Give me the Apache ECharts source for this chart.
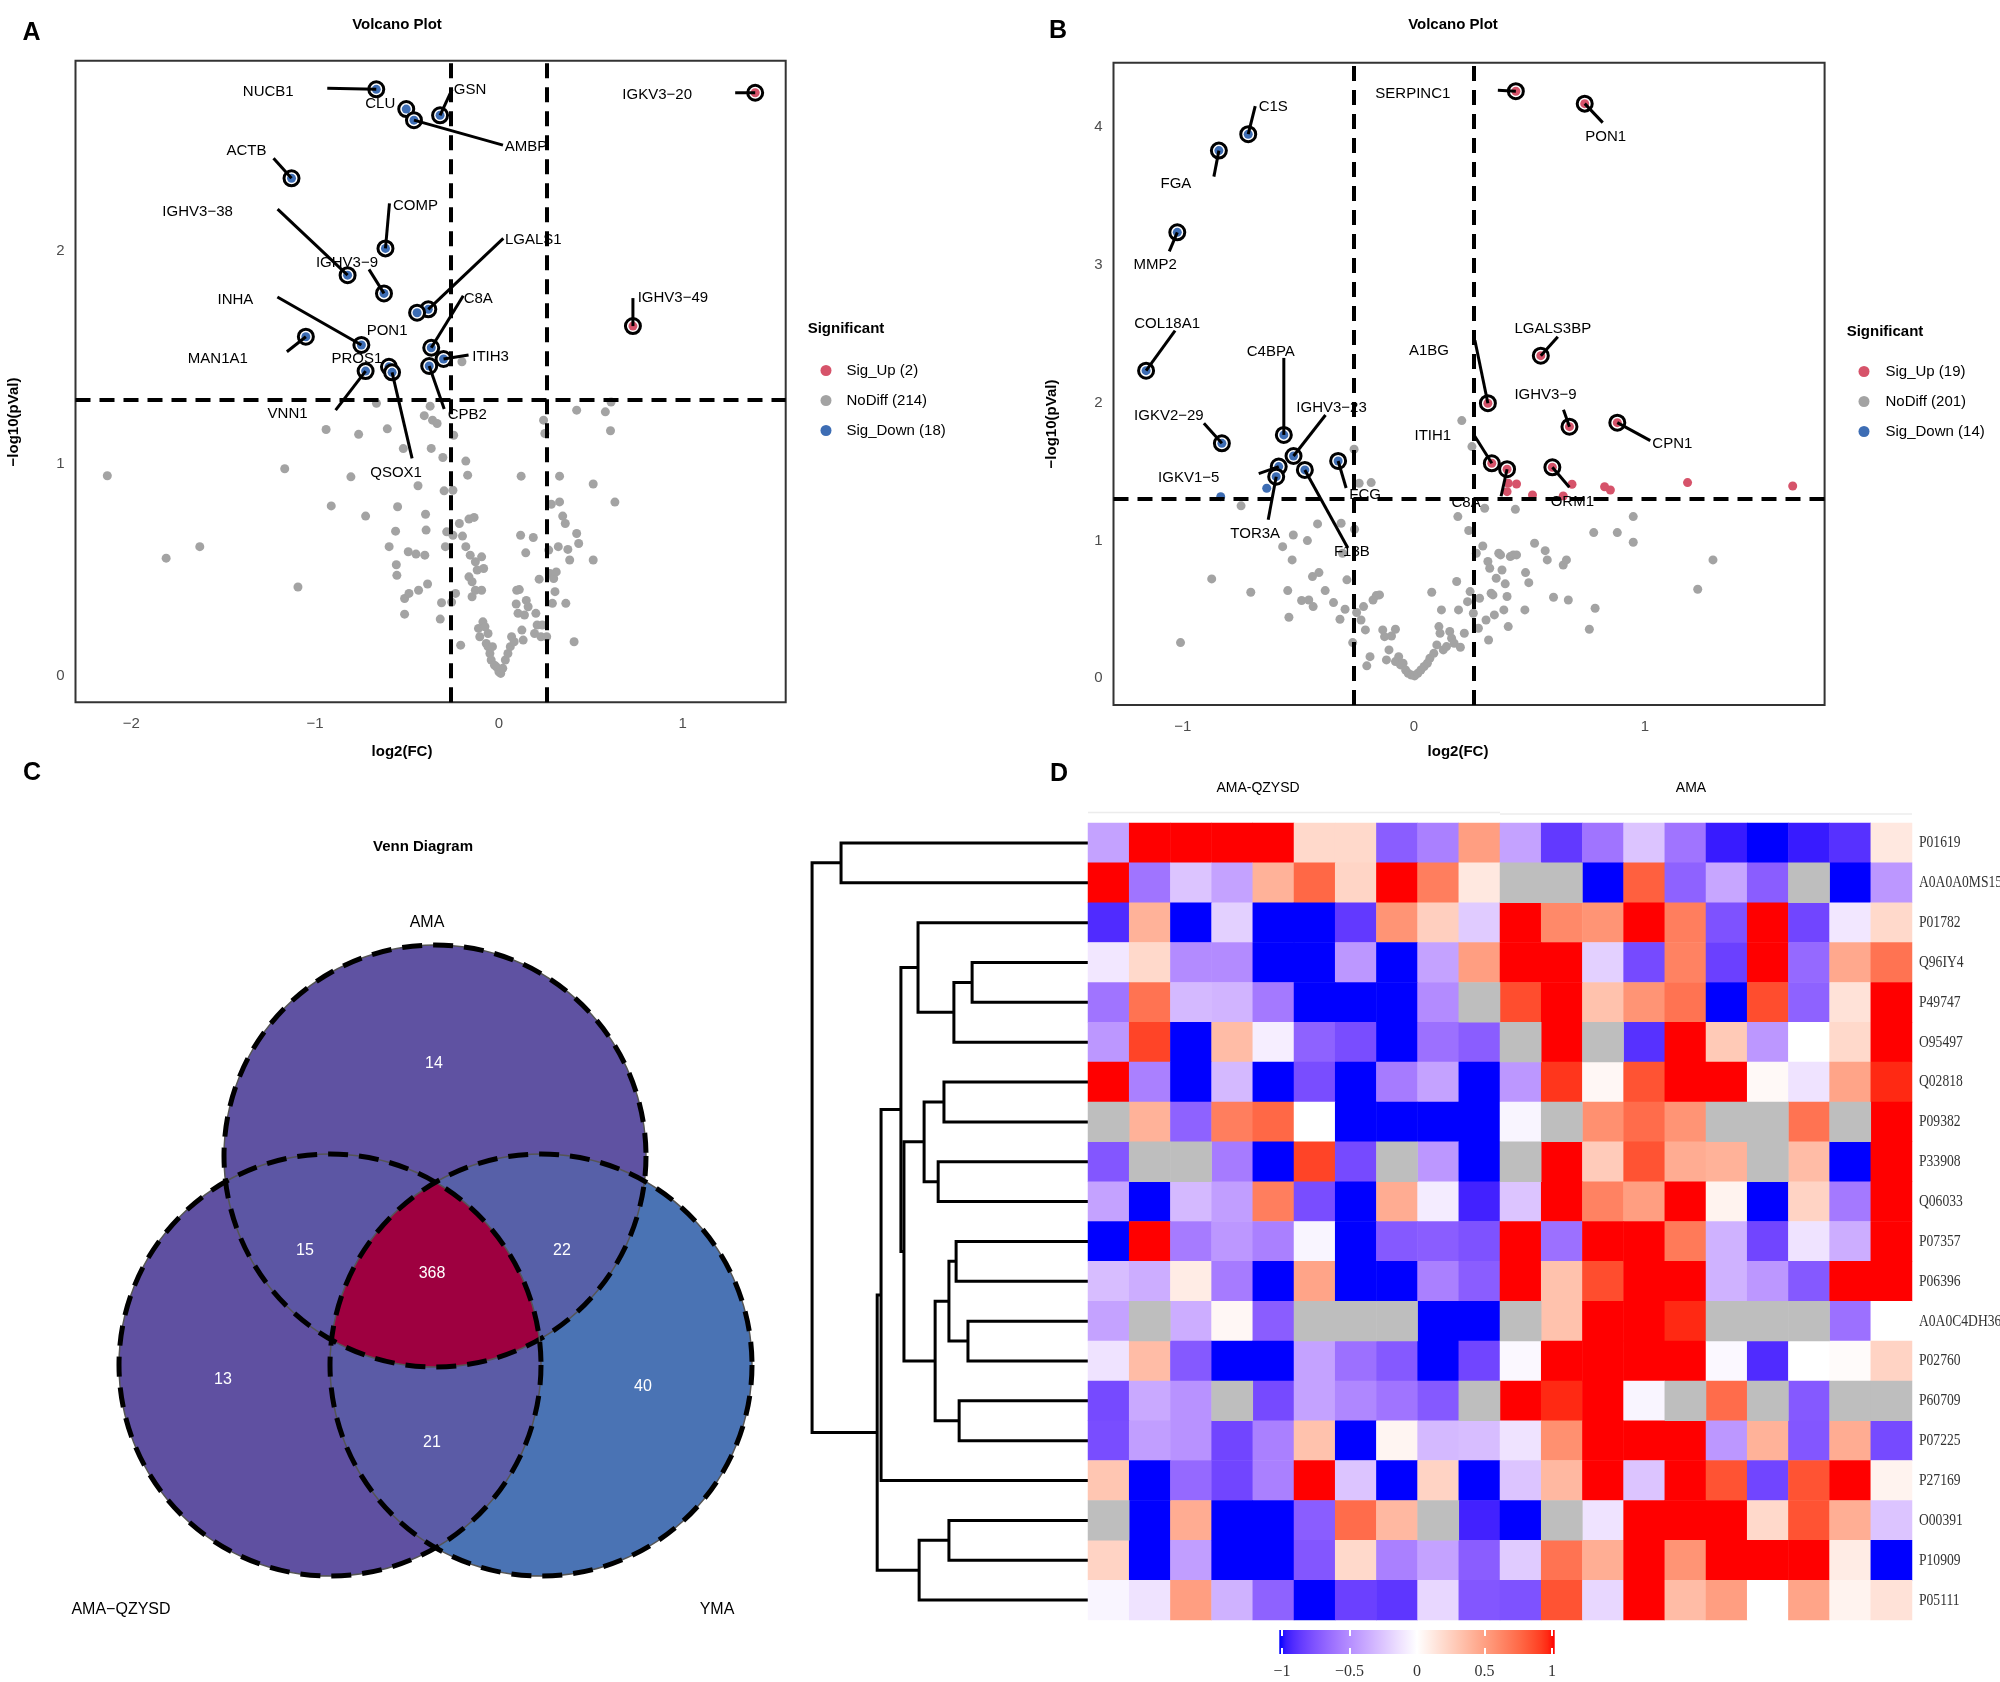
<!DOCTYPE html>
<html><head><meta charset="utf-8">
<script src="https://cdn.jsdelivr.net/npm/echarts@6.0.0/dist/echarts.min.js"></script>
<style>html,body{margin:0;padding:0;background:#fff}#c{width:2000px;height:1682px}</style>
</head><body><div id="c"></div>
<script>
// ================= DATA =================
const fcCut = 0.263;      // log2 fold-change threshold
const pCut = 1.301;       // -log10(0.05)

// ---- Panel A volcano ----
const aLegend = ['Sig_Up (2)', 'NoDiff (214)', 'Sig_Down (18)'];
const aTicksX = [-2, -1, 0, 1];
const aTicksY = [0, 1, 2];
const aNoDiff = [
[-2.13,0.942],[-1.81,0.554],[-1.627,0.608],[-1.165,0.975],[-1.093,0.418],[-0.94,1.16],[-0.912,0.80],[-0.805,0.937],[-0.763,1.137],[-0.725,0.752],[-0.666,1.283],[-0.607,1.163],[-0.597,0.608],[-0.562,0.681],[-0.558,0.523],[-0.555,0.473],[-0.551,0.796],[-0.52,1.07],[-0.513,0.364],[-0.513,0.29],[-0.493,0.584],[-0.489,0.388],[-0.451,0.573],[-0.44,0.895],[-0.437,0.403],[-0.406,1.225],[-0.403,0.568],[-0.399,0.761],[-0.396,0.686],[-0.388,0.432],[-0.368,1.071],[-0.361,1.204],[-0.336,1.188],[-0.319,0.267],[-0.312,0.344],[-0.305,1.028],[-0.298,0.871],[-0.291,0.608],[-0.284,0.678],[-0.257,0.347],[-0.25,0.874],[-0.25,0.662],[-0.246,1.133],[-0.236,0.388],[-0.215,0.717],[-0.208,0.144],[-0.198,0.658],[-0.18,1.011],[-0.18,0.608],[-0.17,0.945],[-0.163,0.738],[-0.163,0.466],[-0.156,0.568],[-0.146,0.443],[-0.146,0.372],[-0.135,0.746],[-0.128,0.537],[-0.128,0.403],[-0.118,0.498],[-0.111,0.223],[-0.104,0.184],[-0.094,0.56],[-0.094,0.403],[-0.087,0.254],[-0.083,0.505],[-0.076,0.231],[-0.069,0.152],[-0.059,0.137],[-0.059,0.199],[-0.049,0.105],[-0.042,0.074],[-0.035,0.137],[-0.024,0.05],[-0.014,0.042],[0,0.019],[0.01,0.011],[0.021,0.035],[0.035,0.074],[0.049,0.105],[0.062,0.137],[0.069,0.184],[0.083,0.16],[0.094,0.338],[0.097,0.403],[0.104,0.294],[0.111,0.406],[0.118,0.662],[0.121,0.94],[0.125,0.215],[0.132,0.168],[0.139,0.286],[0.146,0.579],[0.149,0.355],[0.159,0.325],[0.187,0.651],[0.194,0.199],[0.201,0.294],[0.208,0.239],[0.219,0.455],[0.229,0.184],[0.236,0.239],[0.243,1.204],[0.25,1.141],[0.26,0.184],[0.271,0.592],[0.278,0.482],[0.285,0.808],[0.291,0.341],[0.298,0.458],[0.305,0.396],[0.312,0.489],[0.323,0.608],[0.33,0.94],[0.33,0.819],[0.347,0.752],[0.361,0.717],[0.364,0.341],[0.375,0.595],[0.385,0.545],[0.409,0.16],[0.423,1.251],[0.423,0.67],[0.434,0.623],[0.513,0.903],[0.513,0.545],[0.579,1.243],[0.607,1.154],[0.61,1.289],[0.631,0.818],[-0.201,1.479],[-0.374,1.27]
];
const aUp = [[1.394,2.746,'IGKV3-20'],[0.729,1.647,'IGHV3-49']];
const aDown = [
[-0.667,2.762,'NUCB1'],[-0.504,2.669,'CLU'],[-0.462,2.617,'AMBP'],[-0.32,2.64,'GSN'],[-1.128,2.343,'ACTB'],[-0.617,2.013,'COMP'],[-0.823,1.887,'IGHV3-38'],[-0.625,1.801,'IGHV3-9'],[-0.384,1.726,'LGALS1'],[-0.445,1.71,'PON1'],[-1.05,1.597,'MAN1A1'],[-0.748,1.558,'INHA'],[-0.368,1.545,'C8A'],[-0.301,1.492,'ITIH3'],[-0.379,1.459,'CPB2'],[-0.725,1.435,'VNN1'],[-0.598,1.455,'PROS1'],[-0.581,1.429,'QSOX1']
];

// ---- Panel B volcano ----
const bLegend = ['Sig_Up (19)', 'NoDiff (201)', 'Sig_Down (14)'];
const bTicksX = [-1, 0, 1];
const bTicksY = [0, 1, 2, 3, 4];
const bNoDiff = [
[-1.01,0.259],[-0.875,0.721],[-0.748,1.251],[-0.706,0.624],[-0.568,0.955],[-0.541,0.443],[-0.546,0.636],[-0.527,0.859],[-0.522,1.04],[-0.486,0.564],[-0.461,0.999],[-0.455,0.568],[-0.436,0.52],[-0.439,0.738],[-0.411,0.767],[-0.417,1.12],[-0.384,0.636],[-0.348,0.549],[-0.32,0.428],[-0.315,1.125],[-0.309,0.907],[-0.298,0.501],[-0.29,0.714],[-0.265,0.259],[-0.259,1.662],[-0.257,1.081],[-0.248,0.477],[-0.237,1.415],[-0.229,0.423],[-0.21,0.351],[-0.218,0.52],[-0.204,0.09],[-0.19,0.157],[-0.185,1.42],[-0.177,0.568],[-0.163,0.6],[-0.149,0.605],[-0.135,0.351],[-0.127,0.302],[-0.119,0.133],[-0.108,0.206],[-0.097,0.307],[-0.08,0.356],[-0.08,0.121],[-0.066,0.157],[-0.058,0.097],[-0.047,0.109],[-0.036,0.06],[-0.025,0.036],[-0.011,0.024],[0.003,0.017],[0.017,0.036],[0.03,0.06],[0.044,0.085],[0.058,0.109],[0.069,0.145],[0.077,0.624],[0.086,0.181],[0.099,0.242],[0.108,0.375],[0.113,0.327],[0.119,0.496],[0.127,0.206],[0.141,0.23],[0.155,0.339],[0.163,0.29],[0.174,0.254],[0.185,0.702],[0.19,1.173],[0.193,0.496],[0.201,0.225],[0.207,1.87],[0.218,0.327],[0.232,0.556],[0.237,1.072],[0.243,0.629],[0.251,1.681],[0.257,0.472],[0.27,0.907],[0.279,0.363],[0.284,0.581],[0.298,0.96],[0.306,1.234],[0.312,0.423],[0.32,0.847],[0.323,0.278],[0.328,0.798],[0.334,0.617],[0.342,0.605],[0.348,0.46],[0.356,0.726],[0.367,0.907],[0.375,0.895],[0.381,0.786],[0.389,0.496],[0.395,0.685],[0.403,0.593],[0.408,0.375],[0.417,0.883],[0.43,0.895],[0.439,1.226],[0.444,0.895],[0.48,0.496],[0.483,0.767],[0.497,0.694],[0.522,0.98],[0.568,0.926],[0.577,0.859],[0.604,0.588],[0.646,0.822],[0.66,0.859],[0.668,0.568],[0.759,0.356],[0.778,1.057],[0.784,0.508],[0.88,1.057],[0.949,1.173],[0.949,0.987],[1.228,0.646],[1.294,0.859]
];
const bUp = [
[0.441,4.26,'SERPINC1'],[0.739,4.17,'PON1'],[0.549,2.341,'LGALS3BP'],[0.32,1.996,'A1BG'],[0.673,1.826,'IGHV3-9'],[0.88,1.855,'CPN1'],[0.337,1.56,'ITIH1'],[0.403,1.517,'C8A'],[0.599,1.531,'ORM1'],
[0.408,1.415,''],[0.444,1.41,''],[0.403,1.354,''],[0.513,1.33,''],[0.646,1.323,''],[0.684,1.408,''],[0.825,1.39,''],[0.85,1.366,''],[1.184,1.42,''],[1.639,1.395,'']
];
const bDown = [
[-0.717,3.948,'C1S'],[-0.844,3.829,'FGA'],[-1.024,3.236,'MMP2'],[-1.159,2.232,'COL18A1'],[-0.563,1.766,'C4BPA'],[-0.831,1.705,'IGKV2-29'],[-0.521,1.613,'IGHV3-23'],[-0.328,1.577,'FCG'],[-0.585,1.536,'IGKV1-5'],[-0.472,1.512,'F13B'],[-0.596,1.463,'TOR3A'],
[-0.836,1.318,''],[-0.637,1.379,''],[-0.60,1.49,'']
];

// ---- Panel C Venn ----
const vennSetNames = ['AMA', 'AMA\u2212QZYSD', 'YMA'];       // T, L, R
const vennRegionSets = [['L'], ['T'], ['R'], ['T','L'], ['T','R'], ['L','R'], ['T','L','R']];
const vennRegionCounts = [13, 14, 40, 15, 22, 21, 368];

// ---- Panel D heatmap ----
const heatGroups = ['AMA-QZYSD', 'AMA'];
const heatRows = ['P01619','A0A0A0MS15','P01782','Q96IY4','P49747','O95497','Q02818','P09382','P33908','Q06033','P07357','P06396','A0A0C4DH36','P02760','P60709','P07225','P27169','O00391','P10909','P05111'];
const heatValues = [
[-0.4,1,1,1,1,0.2,0.2,-0.7,-0.55,0.5,-0.4,-0.85,-0.6,-0.25,-0.6,-0.95,-1,-0.95,-0.88,0.12],
[1,-0.6,-0.25,-0.4,0.4,0.75,0.22,1,0.65,0.12,null,null,-1,0.78,-0.68,-0.38,-0.7,null,-1,-0.45],
[-0.9,0.4,-1,-0.2,-1,-1,-0.85,0.55,0.25,-0.22,1,0.6,0.55,1,0.65,-0.75,1,-0.8,-0.1,0.2],
[-0.1,0.2,-0.5,-0.5,-1,-1,-0.45,-1,-0.4,0.5,1,1,-0.2,-0.78,0.63,-0.82,1,-0.65,0.45,0.7],
[-0.6,0.7,-0.3,-0.32,-0.58,-1,-1,-1,-0.5,null,0.85,1,0.32,0.55,0.7,-1,0.85,-0.68,0.15,1],
[-0.45,0.88,-1,0.35,-0.07,-0.68,-0.77,-1,-0.62,-0.7,null,1,null,-0.88,1,0.28,-0.45,0,0.2,1],
[1,-0.55,-1,-0.3,-1,-0.77,-1,-0.57,-0.4,-1,-0.45,0.92,0.04,0.83,1,1,0.03,-0.12,0.47,0.95],
[null,0.4,-0.68,0.65,0.75,0,-1,-1,-1,-1,-0.04,null,0.57,0.73,0.55,null,null,0.7,null,1],
[-0.73,null,null,-0.57,-1,0.88,-0.78,null,-0.45,-1,null,1,0.27,0.83,0.43,0.4,null,0.35,-1,1],
[-0.4,-1,-0.3,-0.42,0.65,-0.77,-1,0.43,-0.08,-0.93,-0.25,1,0.63,0.5,1,0.06,-1,0.23,-0.58,1],
[-1,1,-0.57,-0.45,-0.55,-0.04,-1,-0.72,-0.7,-0.75,1,-0.62,1,1,0.67,-0.33,-0.8,-0.12,-0.35,1],
[-0.28,-0.35,0.1,-0.57,-1,0.47,-1,-1,-0.55,-0.7,1,0.32,0.85,1,1,-0.33,-0.45,-0.72,1,1],
[-0.4,null,-0.35,0.04,-0.7,null,null,null,-1,-1,null,0.32,1,1,0.95,null,null,null,-0.62,0],
[-0.12,0.35,-0.72,-1,-1,-0.4,-0.62,-0.72,-1,-0.8,-0.03,1,1,1,1,-0.03,-0.9,0,0.02,0.23],
[-0.78,-0.37,-0.47,null,-0.78,-0.4,-0.52,-0.6,-0.72,null,1,0.95,1,-0.04,null,0.73,null,-0.72,null,null],
[-0.77,-0.42,-0.47,-0.8,-0.55,0.32,-1,0.05,-0.3,-0.28,-0.12,0.57,1,1,1,-0.45,0.4,-0.73,0.43,-0.78],
[0.3,-1,-0.65,-0.8,-0.55,1,-0.25,-1,0.23,-1,-0.25,0.37,1,-0.25,1,0.83,-0.8,0.83,1,0.06],
[null,-1,0.43,-1,-1,-0.7,0.73,0.37,null,-0.93,-1,null,-0.12,1,1,1,0.2,0.83,0.42,-0.25],
[0.23,-1,-0.42,-1,-1,-0.73,0.2,-0.55,-0.4,-0.7,-0.22,0.7,0.42,1,0.55,1,1,1,0.1,-1],
[-0.04,-0.12,0.5,-0.33,-0.68,-1,-0.82,-0.86,-0.17,-0.73,-0.75,0.83,-0.17,1,0.35,0.5,0,0.47,0.06,0.15]
];
// hclust-style merges: negative = leaf (row number), positive = earlier merge; third = height
const dendroMerges = [
[-4,-5,0.42],[-13,-14,0.435],[-15,-16,0.467],[-11,-12,0.478],[1,-6,0.486],[4,2,0.504],[-18,-19,0.504],[-7,-8,0.522],[-9,-10,0.543],[6,3,0.554],[8,9,0.594],[7,-20,0.612],[-3,5,0.616],[11,10,0.667],[13,14,0.678],[15,-17,0.75],[16,12,0.764],[-1,-2,0.895],[18,17,1.0]
];
const colorbarTicks = [-1, -0.5, 0, 0.5, 1];

// ================= STYLE / LAYOUT =================
const FONT = '"Liberation Sans", Arial, sans-serif';
const SERIF = '"Liberation Serif", "DejaVu Serif", serif';
const colUp = '#D6536A', colDown = '#3D6DB4', colNo = '#A3A3A3';
const minus = v => String(v).replace(/-/g, '\u2212');

// label placement (text dx, dy, leader end dx, dy) in px relative to point
const aLab = {
 'NUCB1':[-108,2,-49,-1],'CLU':[-26,-5,0,0],'GSN':[30,-25,12,-26],'AMBP':[112,27,89,25],'ACTB':[-45,-27,-18,-20],
 'COMP':[30,-43,4,-45],'IGHV3-38':[-150,-63,-70,-66],'IGHV3-9':[-37,-31,-15,-24],'LGALS1':[105,-69,75,-71],
 'PON1':[-30,18,0,0],'MAN1A1':[-88,22,-19,15],'INHA':[-126,-45,-84,-48],'C8A':[47,-49,32,-52],'ITIH3':[47,-2,25,-4],
 'CPB2':[38,49,15,43],'VNN1':[-78,43,-30,39],'PROS1':[-32,-8,0,0],'QSOX1':[4,100,20,86],
 'IGKV3-20':[-98,2,-20,0],'IGHV3-49':[40,-28,0,-28]
};
const bLab = {
 'SERPINC1':[-103,3,-18,-1],'PON1':[21,33,18,19],'C1S':[25,-27,7,-28],'FGA':[-43,33,-5,26],'MMP2':[-22,33,-8,19],
 'COL18A1':[21,-47,29,-40],'LGALS3BP':[12,-27,17,-19],'A1BG':[-59,-52,-13,-63],'C4BPA':[-13,-83,0,-77],
 'IGKV2-29':[-53,-27,-18,-20],'IGHV3-23':[38,-48,32,-41],'FCG':[27,34,8,27],'IGKV1-5':[-90,11,-20,7],
 'F13B':[47,82,43,78],'TOR3A':[-21,57,-8,43],'IGHV3-9':[-24,-32,-6,-17],'CPN1':[55,21,33,18],
 'ITIH1':[-59,-27,-17,-27],'C8A':[-41,34,-6,27],'ORM1':[20,35,17,20]
};
const vennGeom = { T:[435,1156], L:[330,1365], R:[541,1365], r:211 };
const vennFill = ['#5F50A1','#5F52A2','#4A73B4','#5C56A4','#5760A8','#5B5BA6','#9E0040'];
const vennCountPos = [[223,1380],[434,1064],[643,1387],[305,1251],[562,1251],[432,1443],[432,1274]];
const vennNamePos = { T:[427,923], L:[121,1610], R:[717,1610] };

// ---- Lab colour ramp blue-white-red ----
function s2l(c){c/=255;return c<=0.04045?c/12.92:Math.pow((c+0.055)/1.055,2.4);}
function l2s(v){v=Math.max(0,Math.min(1,v));const s=v<=0.0031308?12.92*v:1.055*Math.pow(v,1/2.4)-0.055;return Math.round(s*255);}
function rgb2lab(c){const R=s2l(c[0]),G=s2l(c[1]),B=s2l(c[2]);
 const X=(0.4124*R+0.3576*G+0.1805*B)/0.95047,Y=0.2126*R+0.7152*G+0.0722*B,Z=(0.0193*R+0.1192*G+0.9505*B)/1.08883;
 const f=t=>t>0.008856?Math.cbrt(t):7.787*t+16/116;const fx=f(X),fy=f(Y),fz=f(Z);
 return [116*fy-16,500*(fx-fy),200*(fy-fz)];}
function lab2rgb(l){const fy=(l[0]+16)/116,fx=fy+l[1]/500,fz=fy-l[2]/200;
 const g=t=>t*t*t>0.008856?t*t*t:(t-16/116)/7.787;const X=g(fx)*0.95047,Y=g(fy),Z=g(fz)*1.08883;
 const R=3.2406*X-1.5372*Y-0.4986*Z,G=-0.9689*X+1.8758*Y+0.0415*Z,B=0.0557*X-0.2040*Y+1.0570*Z;
 return 'rgb('+l2s(R)+','+l2s(G)+','+l2s(B)+')';}
const labB=rgb2lab([0,0,255]),labW=rgb2lab([255,255,255]),labR=rgb2lab([255,0,0]);
const palette=[];
for(let i=0;i<=40;i++){const v=-1+i*0.05;let a,b,t;if(v<0){a=labB;b=labW;t=v+1;}else{a=labW;b=labR;t=v;}
 palette.push(lab2rgb([0,1,2].map(k=>a[k]+(b[k]-a[k])*t)));}

// ================= BUILD =================
const chart = echarts.init(document.getElementById('c'), null, {renderer:'canvas', width:2000, height:1682});

function volcanoAxes(gi, xmin, xmax, ymin, ymax, tx, ty) {
  return {
    x: {gridIndex:gi, type:'value', min:xmin, max:xmax, axisLine:{show:false}, axisTick:{show:false}, splitLine:{show:false},
        axisLabel:{customValues:tx, formatter:minus, fontSize:15, color:'#4d4d4d', fontFamily:FONT, margin:14}},
    y: {gridIndex:gi, type:'value', min:ymin, max:ymax, axisLine:{show:false}, axisTick:{show:false}, splitLine:{show:false},
        axisLabel:{customValues:ty, formatter:minus, fontSize:15, color:'#4d4d4d', fontFamily:FONT, margin:11}}
  };
}
function volcanoSeries(gi, legend, nodiff, up, down, lab) {
  const ringPts = up.filter(d=>d[2]).map(d=>[d[0],d[1],d[2],colUp]).concat(down.filter(d=>d[2]).map(d=>[d[0],d[1],d[2],colDown]));
  return [
    {type:'scatter', name:legend[1], xAxisIndex:gi, yAxisIndex:gi, data:nodiff, symbolSize:9, itemStyle:{color:colNo, opacity:1}, z:2,
     markLine:{silent:true, symbol:'none', label:{show:false}, animation:false,
       lineStyle:{color:'#000', width:4, type:[15,9]},
       data:[{xAxis:-fcCut},{xAxis:fcCut},{yAxis:pCut}]}},
    {type:'scatter', name:legend[0], xAxisIndex:gi, yAxisIndex:gi, data:up.map(d=>[d[0],d[1]]), symbolSize:9, itemStyle:{color:colUp, opacity:1}, z:3},
    {type:'scatter', name:legend[2], xAxisIndex:gi, yAxisIndex:gi, data:down.map(d=>[d[0],d[1]]), symbolSize:9, itemStyle:{color:colDown, opacity:1}, z:3},
    {type:'custom', xAxisIndex:gi, yAxisIndex:gi, coordinateSystem:'cartesian2d', clip:false, silent:true, z:10,
     data:ringPts.map(d=>[d[0],d[1]]), encode:{x:0,y:1},
     renderItem:(params, api)=>{
       const d = ringPts[params.dataIndex]; const L = lab[d[2]] || [0,-20,0,0];
       const c = api.coord([d[0], d[1]]);
       const ch = [
         {type:'circle', shape:{cx:c[0],cy:c[1],r:7.5}, style:{fill:'#fff', stroke:'#000', lineWidth:3}},
         {type:'circle', shape:{cx:c[0],cy:c[1],r:4.5}, style:{fill:d[3]}}
       ];
       if (L[2] || L[3]) ch.push({type:'line', shape:{x1:c[0],y1:c[1],x2:c[0]+L[2],y2:c[1]+L[3]}, style:{stroke:'#000', lineWidth:3}});
       ch.push({type:'text', x:c[0]+L[0], y:c[1]+L[1], style:{text:minus(d[2]), fill:'#000', font:'15px '+FONT, align:'center', verticalAlign:'middle'}});
       return {type:'group', children:ch};
     }}
  ];
}

const A = volcanoAxes(0, -2.303, 1.56, -0.125, 2.897, aTicksX, aTicksY);
const B = volcanoAxes(1, -1.30, 1.777, -0.194, 4.467, bTicksX, bTicksY);

// Venn helpers
function circlePoly(c, r, n){const p=[];for(let i=0;i<n;i++){const t=2*Math.PI*i/n;p.push([c[0]+r*Math.cos(t),c[1]+r*Math.sin(t)]);}return p;}
function clipPoly(subject, clip){
  let area=0;for(let i=0;i<clip.length;i++){const a=clip[i],b=clip[(i+1)%clip.length];area+=a[0]*b[1]-b[0]*a[1];}
  const s=Math.sign(area);let out=subject;
  for(let i=0;i<clip.length&&out.length;i++){
    const a=clip[i],b=clip[(i+1)%clip.length];const inp=out;out=[];
    const ins=p=>s*((b[0]-a[0])*(p[1]-a[1])-(b[1]-a[1])*(p[0]-a[0]))>=0;
    const X=(p,q)=>{const d1=[q[0]-p[0],q[1]-p[1]],d2=[b[0]-a[0],b[1]-a[1]];const den=d1[0]*d2[1]-d1[1]*d2[0];
      const t=((a[0]-p[0])*d2[1]-(a[1]-p[1])*d2[0])/den;return [p[0]+t*d1[0],p[1]+t*d1[1]];};
    for(let j=0;j<inp.length;j++){const cur=inp[j],prev=inp[(j+inp.length-1)%inp.length];const ci=ins(cur),pi=ins(prev);
      if(ci){if(!pi)out.push(X(prev,cur));out.push(cur);}else if(pi)out.push(X(prev,cur));}
  }
  return out;
}

// Dendrogram node positions
const nodeY = [];
function nodePos(k){ if(k<0) return {h:0, y:-k-1}; return {h:dendroMerges[k-1][2], y:nodeY[k-1]}; }
dendroMerges.forEach((m,i)=>{ nodeY[i] = (nodePos(m[0]).y + nodePos(m[1]).y)/2; });

// heatmap data
const heatCols = [];
heatGroups.forEach(g=>{ for(let i=1;i<=10;i++) heatCols.push(g+'_'+i); });
const heatData = [], heatNA = [];
heatValues.forEach((row,r)=>row.forEach((v,c)=>{ if(v===null) heatNA.push([c,r,0]); else heatData.push([c,r,v]); }));

const txt = (text, x, y, font, extra) => Object.assign({type:'text', x, y, silent:true,
  style:{text, font, fill:'#000', align:'center', verticalAlign:'middle'}}, extra||{});

const G = {outerBoundsMode:'none', containLabel:false};
const option = {
  animation:false,
  backgroundColor:'#fff',
  grid:[
    Object.assign({left:75.5, top:60.7, width:710.2, height:641.6, show:true, borderColor:'#333', borderWidth:2, backgroundColor:'rgba(0,0,0,0)'}, G),
    Object.assign({left:1113.5, top:62.7, width:711.1, height:642.3, show:true, borderColor:'#333', borderWidth:2, backgroundColor:'rgba(0,0,0,0)'}, G),
    Object.assign({left:80, top:880, width:720, height:760}, G),
    Object.assign({left:806, top:823, width:282, height:797}, G),
    Object.assign({left:1088, top:823, width:824, height:797}, G),
    Object.assign({left:1282, top:1630, width:270, height:24}, G)
  ],
  xAxis:[A.x, B.x,
    {gridIndex:2, type:'value', min:80, max:800, show:false},
    {gridIndex:3, type:'value', min:0, max:1.022, inverse:true, show:false},
    {gridIndex:4, type:'category', data:heatCols, show:false},
    {gridIndex:5, type:'value', min:-1, max:1, position:'bottom', z:10, axisLine:{show:false}, splitLine:{show:false},
      axisTick:{show:true, inside:true, length:6, customValues:colorbarTicks, lineStyle:{color:'#fff', width:2}},
      axisLabel:{customValues:colorbarTicks, formatter:minus, fontFamily:SERIF, fontSize:16, color:'#333', margin:10}},
    {gridIndex:5, type:'value', min:-1, max:1, position:'top', z:10, axisLine:{show:false}, splitLine:{show:false},
      axisTick:{show:true, inside:true, length:6, customValues:colorbarTicks, lineStyle:{color:'#fff', width:2}},
      axisLabel:{show:false}}
  ],
  yAxis:[A.y, B.y,
    {gridIndex:2, type:'value', min:880, max:1640, inverse:true, show:false},
    {gridIndex:3, type:'value', min:-0.5, max:19.5, inverse:true, show:false},
    {gridIndex:4, type:'category', data:heatRows, inverse:true, position:'right', axisLine:{show:false}, axisTick:{show:false},
      axisLabel:{show:false}},
    {gridIndex:5, type:'value', min:0, max:1, show:false}
  ],
  legend:[
    {data:aLegend, orient:'vertical', left:815.5, top:358, icon:'circle', itemWidth:11, itemHeight:11, itemGap:15,
     selectedMode:false, textStyle:{fontSize:15, fontFamily:FONT, color:'#000', lineHeight:15, padding:[0,0,0,10]}},
    {data:bLegend, orient:'vertical', left:1853.5, top:359, icon:'circle', itemWidth:11, itemHeight:11, itemGap:15,
     selectedMode:false, textStyle:{fontSize:15, fontFamily:FONT, color:'#000', lineHeight:15, padding:[0,0,0,11]}}
  ],
  visualMap:[{type:'continuous', show:false, min:-1, max:1, dimension:2, seriesIndex:11, inRange:{color:palette}}],
  series:[
    ...volcanoSeries(0, aLegend, aNoDiff, aUp, aDown, aLab),
    ...volcanoSeries(1, bLegend, bNoDiff, bUp, bDown, bLab),
    // 8: Venn regions
    {type:'custom', xAxisIndex:2, yAxisIndex:2, coordinateSystem:'cartesian2d', silent:true, clip:false, z:2,
     data:vennRegionCounts.map((c,i)=>[vennCountPos[i][0], vennCountPos[i][1], c]), encode:{x:0,y:1},
     renderItem:(params, api)=>{
       const i = params.dataIndex; const sets = vennRegionSets[i];
       const rpx = api.size([vennGeom.r, 0])[0];
       let poly = null;
       sets.forEach(s=>{ const c = api.coord(vennGeom[s]); const cp = circlePoly(c, rpx, 360);
         poly = poly ? clipPoly(poly, cp) : cp; });
       const lp = api.coord(vennCountPos[i]);
       return {type:'group', children:[
         {type:'polygon', shape:{points:poly}, style:{fill:vennFill[i]}},
         {type:'text', x:lp[0], y:lp[1], z2:5, style:{text:String(vennRegionCounts[i]), fill:'#fff', font:'16px '+FONT, align:'center', verticalAlign:'middle'}}
       ]};
     }},
    // 9: Venn outlines and set names
    {type:'custom', xAxisIndex:2, yAxisIndex:2, coordinateSystem:'cartesian2d', silent:true, clip:false, z:3,
     data:['T','L','R'].map(k=>vennGeom[k]), encode:{x:0,y:1},
     renderItem:(params, api)=>{
       const k = ['T','L','R'][params.dataIndex];
       const c = api.coord(vennGeom[k]); const rpx = api.size([vennGeom.r,0])[0];
       const np = api.coord(vennNamePos[k]);
       return {type:'group', children:[
         {type:'circle', shape:{cx:c[0],cy:c[1],r:rpx}, style:{fill:null, stroke:'#555', lineWidth:1.5}},
         {type:'circle', shape:{cx:c[0],cy:c[1],r:rpx}, style:{fill:null, stroke:'#000', lineWidth:5, lineDash:[20,11]}},
         {type:'text', x:np[0], y:np[1], style:{text:vennSetNames[params.dataIndex], fill:'#000', font:'16px '+FONT, align:'center', verticalAlign:'middle'}}
       ]};
     }},
    // 10: dendrogram
    {type:'custom', xAxisIndex:3, yAxisIndex:3, coordinateSystem:'cartesian2d', silent:true, clip:false,
     data:dendroMerges.map((m,i)=>[m[2], nodeY[i]]), encode:{x:0,y:1},
     renderItem:(params, api)=>{
       const m = dendroMerges[params.dataIndex]; const a = nodePos(m[0]), b = nodePos(m[1]);
       const pts = [api.coord([a.h,a.y]), api.coord([m[2],a.y]), api.coord([m[2],b.y]), api.coord([b.h,b.y])];
       return {type:'polyline', shape:{points:pts}, style:{stroke:'#000', lineWidth:3, fill:null}};
     }},
    // 11: heatmap values
    {type:'heatmap', xAxisIndex:4, yAxisIndex:4, data:heatData, itemStyle:{borderWidth:0}, emphasis:{disabled:true}},
    // 12: NA cells
    {type:'heatmap', xAxisIndex:4, yAxisIndex:4, data:heatNA, itemStyle:{color:'#BEBEBE', borderWidth:0}, emphasis:{disabled:true}},
    // 13: colour bar
    {type:'custom', xAxisIndex:5, yAxisIndex:5, coordinateSystem:'cartesian2d', silent:true, clip:false, z:1,
     data:[[0,0.5]], encode:{x:0,y:1},
     renderItem:(params, api)=>{
       const p0 = api.coord([-1.02, 1]), p1 = api.coord([1.02, 0]);
       const stops = palette.map((c,i)=>({offset:i/(palette.length-1), color:c}));
       return {type:'rect', shape:{x:p0[0], y:p0[1], width:p1[0]-p0[0], height:p1[1]-p0[1]},
         style:{fill:new echarts.graphic.LinearGradient(0,0,1,0,stops)}};
     }},
    // 14: heatmap row labels (condensed serif)
    {type:'custom', xAxisIndex:4, yAxisIndex:4, coordinateSystem:'cartesian2d', silent:true, clip:false, z:5,
     data:heatRows.map((n,i)=>[heatCols.length-1, i]), encode:{x:0,y:1},
     renderItem:(params, api)=>{
       const c = api.coord([api.value(0), api.value(1)]);
       const half = api.size([1,0])[0]/2;
       return {type:'text', x:c[0]+half+7, y:c[1], scaleX:0.8,
         style:{text:heatRows[params.dataIndex], fill:'#333', font:'17px '+SERIF, align:'left', verticalAlign:'middle'}};
     }}
  ],
  graphic:{elements:[
    txt('A', 31.5, 33.5, 'bold 25px '+FONT),
    txt('B', 1058, 31, 'bold 25px '+FONT),
    txt('C', 32, 773, 'bold 25px '+FONT),
    txt('D', 1059, 774, 'bold 25px '+FONT),
    txt('Volcano Plot', 397, 25, 'bold 15px '+FONT),
    txt('Volcano Plot', 1453, 25, 'bold 15px '+FONT),
    txt('log2(FC)', 402, 752, 'bold 15px '+FONT),
    txt('log2(FC)', 1458, 752, 'bold 15px '+FONT),
    txt('\u2212log10(pVal)', 14, 422, 'bold 15px '+FONT, {rotation:Math.PI/2}),
    txt('\u2212log10(pVal)', 1052, 424, 'bold 15px '+FONT, {rotation:Math.PI/2}),
    txt('Significant', 846, 329, 'bold 15px '+FONT),
    txt('Significant', 1885, 332, 'bold 15px '+FONT),
    txt('Venn Diagram', 423, 847, 'bold 15px '+FONT),
    txt(heatGroups[0], 1258, 788, '14px '+FONT),
    txt(heatGroups[1], 1691, 788, '14px '+FONT),
    {type:'line', silent:true, shape:{x1:1088,y1:812.5,x2:1500,y2:812.5}, style:{stroke:'#ececec', lineWidth:1.5}},
    {type:'line', silent:true, shape:{x1:1500,y1:814,x2:1912,y2:814}, style:{stroke:'#ececec', lineWidth:1.5}}
  ]}
};
chart.setOption(option);
</script></body></html>
